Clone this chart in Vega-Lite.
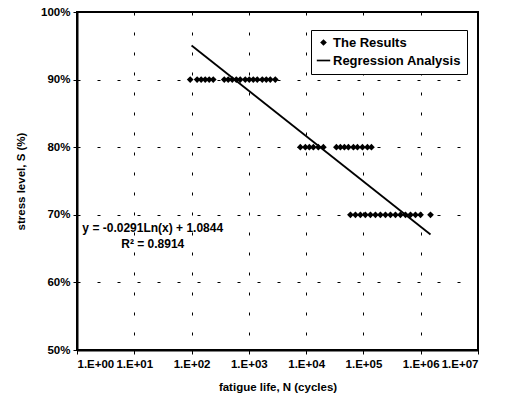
{
  "$schema": "https://vega.github.io/schema/vega-lite/v6.json",
  "autosize": {"type": "none"},
  "width": 401,
  "height": 338,
  "padding": {"left": 77, "top": 12, "right": 31, "bottom": 52},
  "background": "white",
  "config": {
    "font": "Liberation Sans",
    "view": {"stroke": "black", "strokeWidth": 2},
    "axis": {
      "domainColor": "black",
      "domainWidth": 2,
      "tickColor": "black",
      "tickSize": 4,
      "labelColor": "black",
      "titleColor": "black",
      "labelFont": "Liberation Sans",
      "titleFont": "Liberation Sans",
      "labelFontSize": 11.5,
      "labelFontWeight": "bold",
      "titleFontSize": 11.5,
      "titleFontWeight": "bold",
      "grid": true,
      "gridColor": "black",
      "gridWidth": 1,
      "gridDash": [3, 17],
      "gridOpacity": 1
    }
  },
  "datasets": {
    "results": [
      {"N": 94.6, "S": 0.9}, {"N": 125, "S": 0.9}, {"N": 147, "S": 0.9}, {"N": 173, "S": 0.9},
      {"N": 203, "S": 0.9}, {"N": 239, "S": 0.9}, {"N": 372, "S": 0.9}, {"N": 436, "S": 0.9},
      {"N": 513, "S": 0.9}, {"N": 603, "S": 0.9}, {"N": 707, "S": 0.9}, {"N": 865, "S": 0.9},
      {"N": 1016, "S": 0.9}, {"N": 1194, "S": 0.9}, {"N": 1402, "S": 0.9}, {"N": 1714, "S": 0.9},
      {"N": 2014, "S": 0.9}, {"N": 2366, "S": 0.9}, {"N": 2895, "S": 0.9},
      {"N": 7920, "S": 0.8}, {"N": 9690, "S": 0.8}, {"N": 11380, "S": 0.8}, {"N": 13370, "S": 0.8},
      {"N": 16340, "S": 0.8}, {"N": 19990, "S": 0.8}, {"N": 33730, "S": 0.8}, {"N": 39630, "S": 0.8},
      {"N": 46560, "S": 0.8}, {"N": 54700, "S": 0.8}, {"N": 66900, "S": 0.8}, {"N": 78600, "S": 0.8},
      {"N": 96100, "S": 0.8}, {"N": 117500, "S": 0.8}, {"N": 138000, "S": 0.8},
      {"N": 59300, "S": 0.7}, {"N": 72500, "S": 0.7}, {"N": 88600, "S": 0.7}, {"N": 108000, "S": 0.7},
      {"N": 132500, "S": 0.7}, {"N": 162000, "S": 0.7}, {"N": 198000, "S": 0.7}, {"N": 242600, "S": 0.7},
      {"N": 296500, "S": 0.7}, {"N": 362500, "S": 0.7}, {"N": 443000, "S": 0.7}, {"N": 542000, "S": 0.7},
      {"N": 663000, "S": 0.7}, {"N": 810000, "S": 0.7}, {"N": 993000, "S": 0.7}, {"N": 1483000, "S": 0.7}
    ],
    "regression": [
      {"N": 100, "S": 0.9504},
      {"N": 1483000, "S": 0.6709}
    ],
    "notes": [
      {"N": 21, "S": 0.6805, "label": "y = -0.0291Ln(x) + 1.0844"},
      {"N": 21, "S": 0.657, "label": "R² = 0.8914"}
    ]
  },
  "layer": [
    {
      "data": {"name": "results"},
      "mark": {"type": "point", "filled": true, "color": "black", "opacity": 1, "size": 45},
      "encoding": {
        "x": {
          "field": "N", "type": "quantitative",
          "scale": {"type": "log", "domain": [1, 10000000], "nice": false},
          "axis": {
            "title": "fatigue life, N (cycles)",
            "values": [1, 10, 100, 1000, 10000, 100000, 1000000, 10000000],
            "labelExpr": "'1.E+0' + format(log(datum.value)/LN10, '.0f')",
            "labelPadding": 4,
            "titlePadding": 12
          }
        },
        "y": {
          "field": "S", "type": "quantitative",
          "scale": {"domain": [0.5, 1.0], "nice": false, "zero": false},
          "axis": {
            "title": "stress level, S (%)",
            "values": [0.5, 0.6, 0.7, 0.8, 0.9, 1.0],
            "format": ".0%",
            "labelPadding": 3,
            "titlePadding": 14
          }
        },
        "shape": {
          "datum": "The Results",
          "type": "nominal",
          "scale": {"domain": ["The Results", "Regression Analysis"], "range": ["diamond", "M-2,-0.25L2,-0.25L2,0.25L-2,0.25Z"]},
          "legend": {
            "title": null,
            "orient": "none",
            "legendX": 234,
            "legendY": 18,
            "strokeColor": "black",
            "fillColor": "white",
            "padding": 6,
            "labelFontSize": 13,
            "labelFontWeight": "bold",
            "labelColor": "black",
            "labelOffset": 3,
            "symbolSize": 45,
            "symbolFillColor": "black",
            "symbolStrokeColor": "black",
            "symbolStrokeWidth": 0,
            "rowPadding": 4
          }
        }
      }
    },
    {
      "data": {"name": "regression"},
      "mark": {"type": "line", "color": "black", "strokeWidth": 1.8},
      "encoding": {
        "x": {"field": "N", "type": "quantitative"},
        "y": {"field": "S", "type": "quantitative"}
      }
    },
    {
      "data": {"name": "notes"},
      "mark": {"type": "text", "fontSize": 12, "fontWeight": "bold", "color": "black", "align": "center", "baseline": "middle"},
      "encoding": {
        "x": {"field": "N", "type": "quantitative"},
        "y": {"field": "S", "type": "quantitative"},
        "text": {"field": "label"}
      }
    }
  ]
}
